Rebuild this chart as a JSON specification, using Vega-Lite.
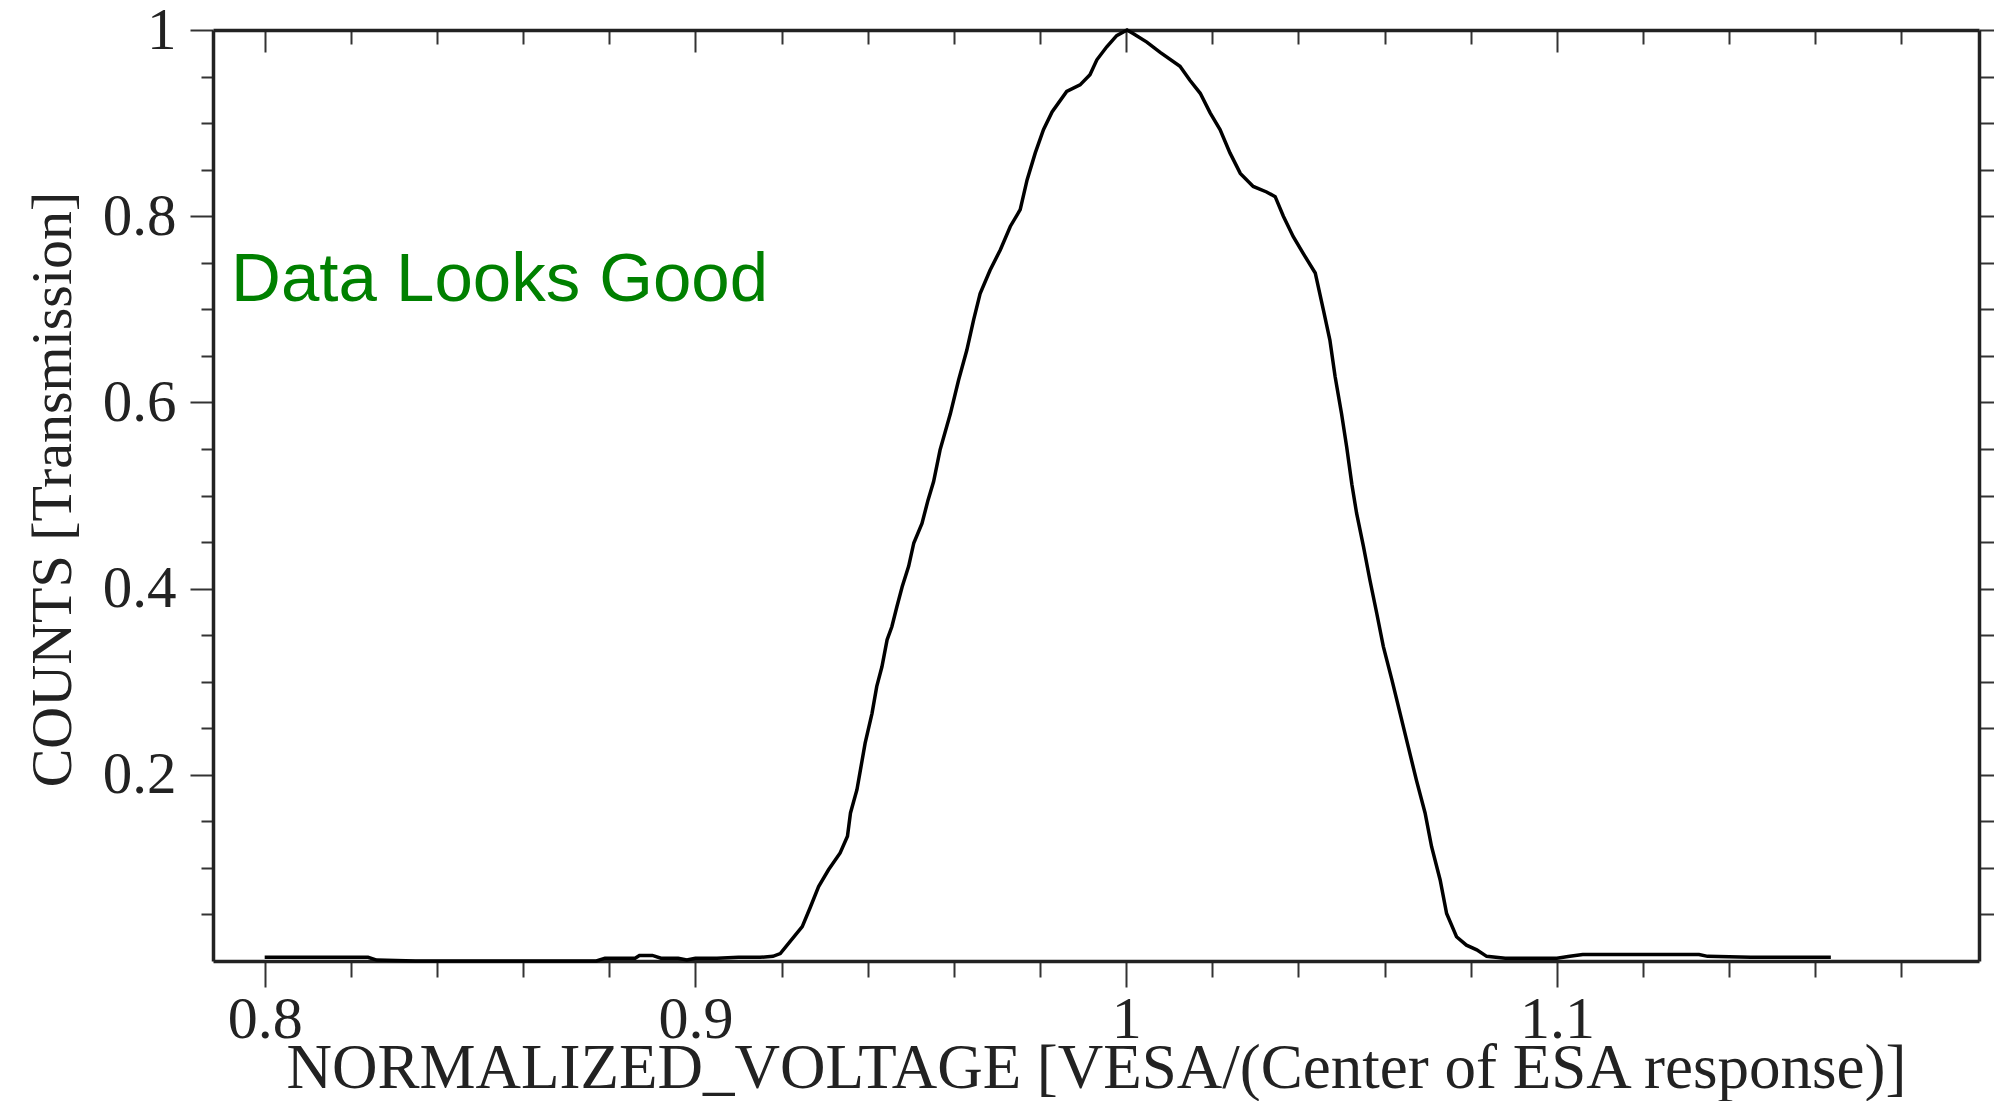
{
  "$schema": "https://vega.github.io/schema/vega-lite/v6.json",
  "width": 1766,
  "height": 931,
  "autosize": {"type": "none"},
  "padding": {"left": 213, "top": 30, "right": 15, "bottom": 140},
  "background": "white",
  "config": {
    "view": {"stroke": null},
    "axis": {
      "domainColor": "#222",
      "domainWidth": 3.5,
      "tickColor": "#333",
      "tickWidth": 2,
      "grid": false,
      "labelFont": "Liberation Serif",
      "titleFont": "Liberation Serif",
      "labelColor": "#222",
      "titleColor": "#222",
      "titleFontWeight": "normal",
      "labelFontSize": 58,
      "titleFontSize": 60,
      "labelOverlap": false
    }
  },
  "data": {
    "values": [
      {"v": 0.800, "c": 0.004}, {"v": 0.806, "c": 0.004}, {"v": 0.812, "c": 0.004}, {"v": 0.818, "c": 0.004},
      {"v": 0.824, "c": 0.004}, {"v": 0.826, "c": 0.001}, {"v": 0.835, "c": 0.0}, {"v": 0.850, "c": 0.0},
      {"v": 0.865, "c": 0.0}, {"v": 0.877, "c": 0.0}, {"v": 0.879, "c": 0.003}, {"v": 0.886, "c": 0.003},
      {"v": 0.887, "c": 0.006}, {"v": 0.890, "c": 0.006}, {"v": 0.892, "c": 0.003}, {"v": 0.896, "c": 0.003},
      {"v": 0.898, "c": 0.001}, {"v": 0.900, "c": 0.003}, {"v": 0.905, "c": 0.003}, {"v": 0.910, "c": 0.004},
      {"v": 0.915, "c": 0.004}, {"v": 0.918, "c": 0.005}, {"v": 0.9197, "c": 0.008}, {"v": 0.9220, "c": 0.021},
      {"v": 0.9248, "c": 0.037}, {"v": 0.9267, "c": 0.058}, {"v": 0.9286, "c": 0.080}, {"v": 0.9309, "c": 0.098},
      {"v": 0.9336, "c": 0.116}, {"v": 0.9353, "c": 0.134}, {"v": 0.9360, "c": 0.159}, {"v": 0.9375, "c": 0.184},
      {"v": 0.9383, "c": 0.205}, {"v": 0.9394, "c": 0.234}, {"v": 0.9410, "c": 0.266}, {"v": 0.9421, "c": 0.295},
      {"v": 0.9433, "c": 0.316}, {"v": 0.9445, "c": 0.345}, {"v": 0.9456, "c": 0.359}, {"v": 0.9468, "c": 0.381},
      {"v": 0.9480, "c": 0.402}, {"v": 0.9495, "c": 0.424}, {"v": 0.9507, "c": 0.449}, {"v": 0.9526, "c": 0.470},
      {"v": 0.9540, "c": 0.495}, {"v": 0.9553, "c": 0.515}, {"v": 0.9568, "c": 0.549}, {"v": 0.9592, "c": 0.588},
      {"v": 0.9611, "c": 0.624}, {"v": 0.9630, "c": 0.656}, {"v": 0.9646, "c": 0.689}, {"v": 0.9661, "c": 0.717},
      {"v": 0.9684, "c": 0.742}, {"v": 0.9708, "c": 0.764}, {"v": 0.9731, "c": 0.789}, {"v": 0.9754, "c": 0.807},
      {"v": 0.9770, "c": 0.839}, {"v": 0.9789, "c": 0.868}, {"v": 0.9808, "c": 0.893}, {"v": 0.9828, "c": 0.912},
      {"v": 0.9862, "c": 0.934}, {"v": 0.9893, "c": 0.941}, {"v": 0.9916, "c": 0.952}, {"v": 0.9932, "c": 0.968},
      {"v": 0.9955, "c": 0.982}, {"v": 0.9978, "c": 0.994}, {"v": 1.0002, "c": 1.0}, {"v": 1.0017, "c": 0.996},
      {"v": 1.0048, "c": 0.987}, {"v": 1.0079, "c": 0.976}, {"v": 1.0125, "c": 0.961}, {"v": 1.0148, "c": 0.946},
      {"v": 1.0172, "c": 0.932}, {"v": 1.0195, "c": 0.911}, {"v": 1.0218, "c": 0.893}, {"v": 1.0241, "c": 0.868},
      {"v": 1.0265, "c": 0.846}, {"v": 1.0295, "c": 0.832}, {"v": 1.0326, "c": 0.826}, {"v": 1.0346, "c": 0.821},
      {"v": 1.0365, "c": 0.800}, {"v": 1.0388, "c": 0.778}, {"v": 1.0411, "c": 0.760}, {"v": 1.0439, "c": 0.739},
      {"v": 1.0458, "c": 0.699}, {"v": 1.0473, "c": 0.667}, {"v": 1.0485, "c": 0.628}, {"v": 1.0500, "c": 0.588},
      {"v": 1.0512, "c": 0.552}, {"v": 1.0524, "c": 0.512}, {"v": 1.0535, "c": 0.481}, {"v": 1.0551, "c": 0.445},
      {"v": 1.0566, "c": 0.409}, {"v": 1.0582, "c": 0.373}, {"v": 1.0597, "c": 0.338}, {"v": 1.0617, "c": 0.302},
      {"v": 1.0636, "c": 0.266}, {"v": 1.0655, "c": 0.230}, {"v": 1.0674, "c": 0.194}, {"v": 1.0694, "c": 0.159},
      {"v": 1.0709, "c": 0.123}, {"v": 1.0729, "c": 0.087}, {"v": 1.0744, "c": 0.051}, {"v": 1.0767, "c": 0.026},
      {"v": 1.0790, "c": 0.017}, {"v": 1.0814, "c": 0.012}, {"v": 1.0837, "c": 0.005}, {"v": 1.088, "c": 0.003},
      {"v": 1.095, "c": 0.003}, {"v": 1.100, "c": 0.003}, {"v": 1.103, "c": 0.005}, {"v": 1.106, "c": 0.007},
      {"v": 1.115, "c": 0.007}, {"v": 1.125, "c": 0.007}, {"v": 1.133, "c": 0.007}, {"v": 1.135, "c": 0.005},
      {"v": 1.145, "c": 0.004}, {"v": 1.155, "c": 0.004}, {"v": 1.1636, "c": 0.004}
    ]
  },
  "layer": [
    {
      "mark": {"type": "line", "color": "black", "strokeWidth": 3.5},
      "encoding": {
        "x": {
          "field": "v", "type": "quantitative",
          "scale": {"domain": [0.788, 1.198], "nice": false, "zero": false},
          "axis": {
            "orient": "bottom",
            "values": [0.8, 0.82, 0.84, 0.86, 0.88, 0.9, 0.92, 0.94, 0.96, 0.98, 1.0, 1.02, 1.04, 1.06, 1.08, 1.1, 1.12, 1.14, 1.16, 1.18],
            "labelExpr": "abs(datum.value*10-round(datum.value*10))<0.001 ? format(datum.value,'~g') : ''",
            "tickSize": {"condition": {"test": "abs(datum.value*10-round(datum.value*10))<0.001", "value": 26}, "value": 16},
            "labelPadding": 3,
            "labelFontSize": 60,
            "title": "NORMALIZED_VOLTAGE [VESA/(Center of ESA response)]",
            "titleFontSize": 63,
            "titleX": 883, "titleY": 107, "titleBaseline": "middle", "titleAlign": "center", "titleAnchor": "middle"
          }
        },
        "y": {
          "field": "c", "type": "quantitative",
          "scale": {"domain": [0, 1], "nice": false, "zero": false},
          "axis": {
            "orient": "left",
            "values": [0.05, 0.1, 0.15, 0.2, 0.25, 0.3, 0.35, 0.4, 0.45, 0.5, 0.55, 0.6, 0.65, 0.7, 0.75, 0.8, 0.85, 0.9, 0.95, 1.0],
            "labelExpr": "abs(datum.value*5-round(datum.value*5))<0.001 ? format(datum.value,'~g') : ''",
            "tickSize": {"condition": {"test": "abs(datum.value*5-round(datum.value*5))<0.001", "value": 23}, "value": 12},
            "labelPadding": 14,
            "labelFontSize": 59,
            "title": "COUNTS [Transmission]",
            "titleFontSize": 58,
            "titleX": -160, "titleY": 459, "titleAngle": -90, "titleBaseline": "middle", "titleAlign": "center"
          }
        }
      }
    },
    {
      "mark": {"type": "line", "opacity": 0},
      "encoding": {
        "x": {
          "field": "v", "type": "quantitative",
          "axis": {
            "orient": "top",
            "values": [0.8, 0.82, 0.84, 0.86, 0.88, 0.9, 0.92, 0.94, 0.96, 0.98, 1.0, 1.02, 1.04, 1.06, 1.08, 1.1, 1.12, 1.14, 1.16, 1.18],
            "labels": false,
            "title": null,
            "tickSize": {"condition": {"test": "abs(datum.value*10-round(datum.value*10))<0.001", "value": -22}, "value": -14}
          }
        },
        "y": {
          "field": "c", "type": "quantitative",
          "axis": {
            "orient": "right",
            "values": [0.05, 0.1, 0.15, 0.2, 0.25, 0.3, 0.35, 0.4, 0.45, 0.5, 0.55, 0.6, 0.65, 0.7, 0.75, 0.8, 0.85, 0.9, 0.95, 1.0],
            "labels": false,
            "title": null,
            "tickSize": 15
          }
        }
      }
    },
    {
      "data": {"values": [{"px": 0.7922, "py": 0.709, "t": "Data Looks Good"}]},
      "mark": {"type": "text", "align": "left", "baseline": "alphabetic", "font": "Liberation Sans", "fontSize": 69, "color": "#008000"},
      "encoding": {
        "x": {"field": "px", "type": "quantitative", "axis": null},
        "y": {"field": "py", "type": "quantitative", "axis": null},
        "text": {"field": "t"}
      }
    }
  ],
  "resolve": {"axis": {"x": "independent", "y": "independent"}}
}
